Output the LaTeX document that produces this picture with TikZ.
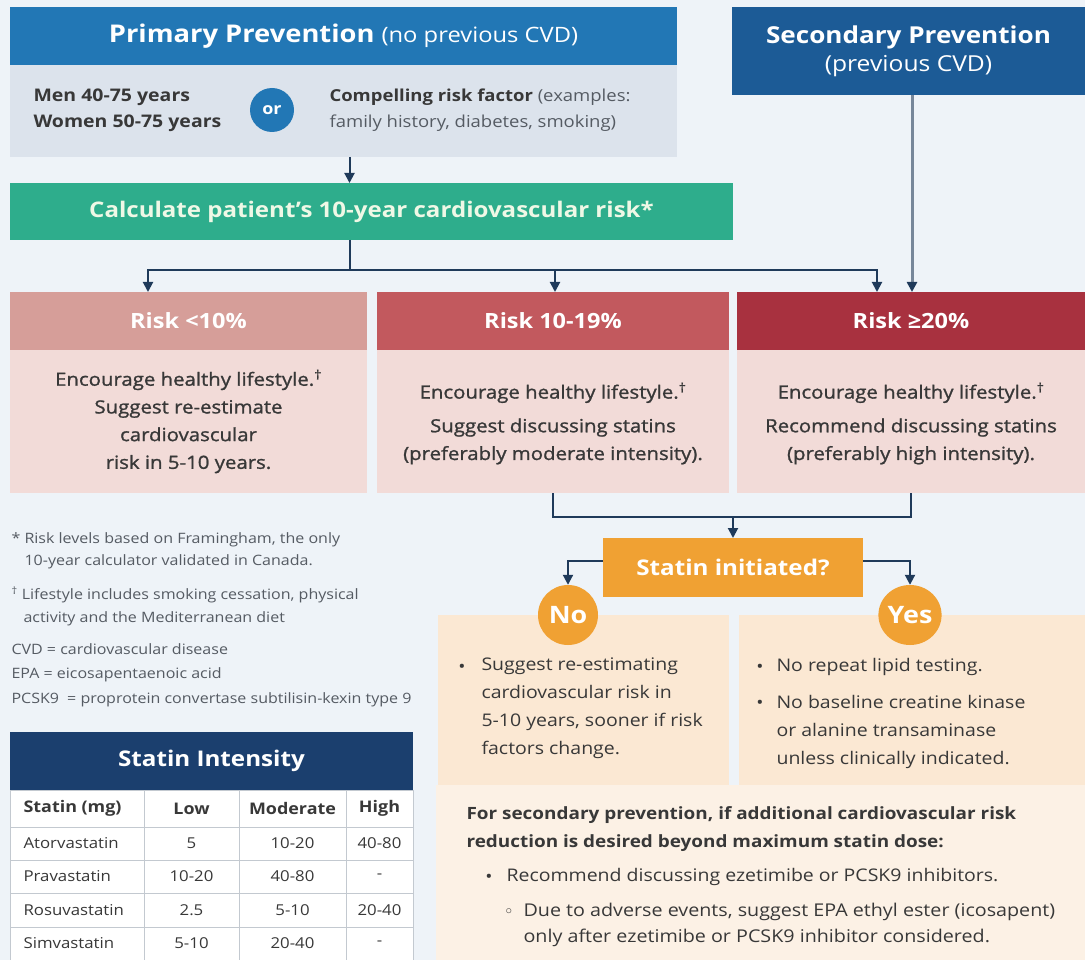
\documentclass[tikz,border=0pt]{standalone}
\usepackage{fontspec}
\setmainfont{Open Sans}[FakeStretch=1.12]
\newfontfamily\dejavu{DejaVu Sans}
\usetikzlibrary{arrows.meta,shapes.geometric}
\definecolor{bg}{HTML}{EEF3F8}
\definecolor{blueh}{HTML}{2277B5}
\definecolor{blued}{HTML}{1C5B96}
\definecolor{greybox}{HTML}{DCE3EC}
\definecolor{greenb}{HTML}{2EAD8C}
\definecolor{greentxt}{HTML}{EFF8E6}
\definecolor{rA}{HTML}{D69E99}
\definecolor{rB}{HTML}{C2595E}
\definecolor{rC}{HTML}{A8313F}
\definecolor{rbody}{HTML}{F2DBD8}
\definecolor{orangeb}{HTML}{F0A133}
\definecolor{peach}{HTML}{FBE8D3}
\definecolor{peachl}{HTML}{FCF1E5}
\definecolor{navyt}{HTML}{1B3F6E}
\definecolor{conn}{HTML}{1F3A5A}
\definecolor{sline}{HTML}{77879A}
\definecolor{txt}{HTML}{383838}
\definecolor{foot}{HTML}{555B63}
\definecolor{grid}{HTML}{C3C9D0}
\begin{document}
\begin{tikzpicture}[x=1pt,y=-1pt,
  box/.style={rectangle,anchor=north west,inner sep=0pt,outer sep=0pt,draw=none},
  line/.style={draw=conn,line width=2pt},
  arr/.style={draw=conn,line width=2pt,-{Triangle[width=10pt,length=10pt,color=conn]}},
  sarr/.style={draw=sline,line width=3pt,-{Triangle[width=10pt,length=10pt,color=conn]}},
  bodytxt/.style={align=center,text=txt,font=\fontsize{18.2}{27.7}\selectfont\addfontfeature{FakeBold=1.2}},
  rhead/.style={box,minimum height=58,text=white,font=\fontsize{21}{21}\selectfont\bfseries},
  rbodyb/.style={box,fill=rbody,minimum height=143},
  pill/.style={ellipse,fill=orangeb,minimum width=60,minimum height=60,inner sep=0pt,text=white,font=\fontsize{24}{24}\selectfont\bfseries},
  ptxt/.style={anchor=west,align=left,text=txt,font=\fontsize{17.4}{28}\selectfont},
  bul/.style={anchor=base,text=txt,font=\fontsize{17}{28}\selectfont},
  fn/.style={anchor=west,align=left,text=foot,font=\fontsize{14.3}{22.5}\selectfont},
  cellh/.style={text=txt,font=\fontsize{16}{16}\selectfont\bfseries},
  cell/.style={text=txt,font=\fontsize{15}{15}\selectfont}
]
\useasboundingbox[fill=bg] (0,0) rectangle (1085,960);

% primary prevention
\node[box,fill=blueh,minimum width=667,minimum height=58,text=white] (ph) at (10,7)
  {\fontsize{24.4}{24}\selectfont\bfseries Primary Prevention \mdseries\fontsize{21.2}{21}\selectfont(no previous CVD)};
\node[box,fill=greybox,minimum width=667,minimum height=92] (crit) at (10,65) {};
\node[anchor=west,align=left,text=txt,font=\fontsize{17.4}{26}\selectfont\bfseries] (men) at (30,110)
  {Men 40-75 years\\Women 50-75 years};
\node[circle,fill=blueh,minimum size=44,inner sep=0pt,text=white,font=\fontsize{16}{16}\selectfont\bfseries] (or) at (272,110) {or};
\node[anchor=west,align=left,text=txt,font=\fontsize{16.5}{26}\selectfont] (comp) at (326,110)
  {\textbf{Compelling risk factor} {\color{foot}(examples:}\\{\color{foot}family history, diabetes, smoking)}};

% secondary prevention
\node[box,fill=blued,minimum width=353,minimum height=88,align=center,text=white] (sp) at (732,7)
  {\fontsize{23.3}{24}\selectfont\bfseries Secondary Prevention\\[5pt]\fontsize{22}{24}\selectfont\mdseries (previous CVD)};

% calculate
\node[box,fill=greenb,minimum width=723,minimum height=57,text=greentxt,font=\fontsize{21.5}{21}\selectfont\bfseries] (calc) at (10,183)
  {Calculate patient’s 10-year cardiovascular risk*};

% risk boxes
\node[rhead,fill=rA,minimum width=357] (r1h) at (10,292) {Risk <10\%};
\node[rhead,fill=rB,minimum width=352] (r2h) at (377,292) {Risk 10-19\%};
\node[rhead,fill=rC,minimum width=348] (r3h) at (737,292) {Risk ≥20\%};
\node[rbodyb,minimum width=357] (r1b) at (10,350) {};
\node[rbodyb,minimum width=352] (r2b) at (377,350) {};
\node[rbodyb,minimum width=348] (r3b) at (737,350) {};
\node[bodytxt] (t1) at (r1b.center) {Encourage healthy lifestyle.\textsuperscript{†}\\Suggest re-estimate\\cardiovascular\\risk in 5-10 years.};
\node[bodytxt] (t2) at ([yshift=-2pt]r2b.center) {Encourage healthy lifestyle.\textsuperscript{†}\\[6pt]Suggest discussing statins\\(preferably moderate intensity).};
\node[bodytxt] (t3) at ([yshift=-2pt]r3b.center) {Encourage healthy lifestyle.\textsuperscript{†}\\[6pt]Recommend discussing statins\\(preferably high intensity).};

% connectors top
\draw[arr] ([xshift=6pt]crit.south) -- ([xshift=6pt]crit.south |- calc.north);
\coordinate (jn) at (350,270);
\draw[line] ([xshift=-21.5pt]calc.south) -- (jn);
\draw[arr] (jn) -| ([xshift=-40.5pt]r1h.north);
\draw[arr] (jn) -| ([xshift=2pt]r2h.north);
\draw[arr] (jn) -| ([xshift=-34pt]r3h.north);
\draw[sarr] ([xshift=3.5pt]sp.south) -- ([xshift=3.5pt]sp.south |- r3h.north);

% statin initiated
\node[box,fill=peach,minimum width=291,minimum height=170] (nob) at (438,615) {};
\node[box,fill=peach,minimum width=346,minimum height=170] (yesb) at (739,615) {};
\node[box,fill=peachl,minimum width=649,minimum height=175] (secb) at (436,785) {};
\node[box,fill=orangeb,minimum width=260,minimum height=59,text=white,font=\fontsize{21.6}{21}\selectfont\bfseries] (si) at (603,538) {Statin initiated?};
\coordinate (bm) at (733,517);
\draw[line] (r2b.south) |- (bm) -| (r3b.south);
\draw[arr] (bm) -- (si.north);
\node[pill] (no) at (568,615) {No};
\node[pill] (yes) at (910,615) {Yes};
\draw[arr] ([yshift=7pt]si.west) -| (no.north);
\draw[arr] ([yshift=7pt]si.east) -| (yes.north);

% No text
\node[bul] (nb1) at (462,672) {•};
\node[ptxt] (nt) at (478,708.5) {Suggest re-estimating\\cardiovascular risk in\\5-10 years, sooner if risk\\factors change.};
% Yes text
\node[bul] (yb1) at (760,672) {•};
\node[ptxt] (yt1) at (773,667) {No repeat lipid testing.};
\node[bul] (yb2) at (760,708) {•};
\node[ptxt] (yt2) at (773,731.5) {No baseline creatine kinase\\or alanine transaminase\\unless clinically indicated.};

% secondary text
\node[anchor=west,align=left,text=txt,font=\fontsize{16.9}{28}\selectfont\bfseries] (st) at (463,829)
  {For secondary prevention, if additional cardiovascular risk\\reduction is desired beyond maximum statin dose:};
\node[bul] (sb1) at (489,882) {•};
\node[ptxt] (st1) at (503,877) {Recommend discussing ezetimibe or PCSK9 inhibitors.};
\node[anchor=base,text=txt,font=\fontsize{17}{17}\selectfont\dejavu] (sb2) at (509,917) {◦};
\node[ptxt,font=\fontsize{17.6}{26}\selectfont] (st2) at (520,925) {Due to adverse events, suggest EPA ethyl ester (icosapent)\\only after ezetimibe or PCSK9 inhibitor considered.};

% footnotes
\node[fn] (fn1) at (8,551) {* Risk levels based on Framingham, the only\\\hspace*{13pt}10-year calculator validated in Canada.};
\node[fn] (fn2) at (8,606.5) {\textsuperscript{†} Lifestyle includes smoking cessation, physical\\\hspace*{12pt}activity and the Mediterranean diet};
\node[fn] (fn3) at (8,649) {CVD = cardiovascular disease};
\node[fn] (fn4) at (8,675) {EPA = eicosapentaenoic acid};
\node[fn] (fn5) at (8,700) {PCSK9 \;= proprotein convertase subtilisin-kexin type 9};

% table
\node[box,fill=navyt,minimum width=403,minimum height=58,text=white,font=\fontsize{21.6}{21}\selectfont\bfseries] (th) at (10,732) {Statin Intensity};
\node[box,fill=white,draw=grid,line width=1pt,minimum width=403,minimum height=172] (tb) at (10,790) {};
\foreach \yy in {827,860,893,927} \draw[grid,line width=1pt] (10,\yy) -- (413,\yy);
\foreach \xx in {144,239,346} \draw[grid,line width=1pt] (\xx,790) -- (\xx,962);
\node[cellh,anchor=west] (h0) at (20,808.5) {Statin (mg)};
\node[cellh] (h1) at (191.5,808.5) {Low};
\node[cellh] (h2) at (292.5,808.5) {Moderate};
\node[cellh] (h3) at (379.5,808.5) {High};
\foreach \n/\a/\b/\c/\y [count=\i] in {Atorvastatin/5/10-20/40-80/843.5, Pravastatin/10-20/40-80/-/876.5, Rosuvastatin/2.5/5-10/20-40/910, Simvastatin/5-10/20-40/-/943.5}{
  \node[cell,anchor=west] (c\i a) at (20,\y) {\n};
  \node[cell] (c\i b) at (191.5,\y) {\a};
  \node[cell] (c\i c) at (292.5,\y) {\b};
  \node[cell] (c\i d) at (379.5,\y) {\c};
}
\end{tikzpicture}
\end{document}
